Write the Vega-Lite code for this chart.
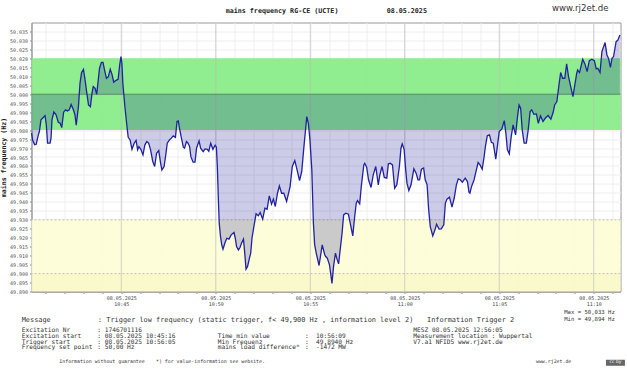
{"$schema":"https://vega.github.io/schema/vega-lite/v6.json","width":589,"height":269,"autosize":{"type":"none"},"padding":{"left":31.5,"top":22.5,"right":6.5,"bottom":76.5},"background":"white","config":{"view":{"stroke":"#999999","strokeWidth":1}},
"datasets":{"freq":[
{"t":"2025-05-08T10:40:15Z","f":49.9783},{"t":"2025-05-08T10:40:19Z","f":49.9742},{"t":"2025-05-08T10:40:25Z","f":49.9719},{"t":"2025-05-08T10:40:30Z","f":49.9721},{"t":"2025-05-08T10:40:36Z","f":49.9768},{"t":"2025-05-08T10:40:40Z","f":49.9792},{"t":"2025-05-08T10:40:45Z","f":49.9857},{"t":"2025-05-08T10:40:50Z","f":49.9866},{"t":"2025-05-08T10:40:58Z","f":49.9881},{"t":"2025-05-08T10:41:02Z","f":49.9829},{"t":"2025-05-08T10:41:06Z","f":49.9727},{"t":"2025-05-08T10:41:14Z","f":49.9727},{"t":"2025-05-08T10:41:17Z","f":49.9755},{"t":"2025-05-08T10:41:20Z","f":49.9857},{"t":"2025-05-08T10:41:26Z","f":49.9901},{"t":"2025-05-08T10:41:33Z","f":49.9885},{"t":"2025-05-08T10:41:40Z","f":49.9844},{"t":"2025-05-08T10:41:46Z","f":49.9838},{"t":"2025-05-08T10:41:51Z","f":49.9814},{"t":"2025-05-08T10:41:57Z","f":49.99},{"t":"2025-05-08T10:42:03Z","f":49.9913},{"t":"2025-05-08T10:42:09Z","f":49.9907},{"t":"2025-05-08T10:42:15Z","f":49.9913},{"t":"2025-05-08T10:42:21Z","f":49.9942},{"t":"2025-05-08T10:42:28Z","f":49.9913},{"t":"2025-05-08T10:42:33Z","f":49.9885},{"t":"2025-05-08T10:42:37Z","f":49.9827},{"t":"2025-05-08T10:42:44Z","f":49.9931},{"t":"2025-05-08T10:42:49Z","f":50.0061},{"t":"2025-05-08T10:42:54Z","f":50.0121},{"t":"2025-05-08T10:43:00Z","f":50.0139},{"t":"2025-05-08T10:43:05Z","f":50.008},{"t":"2025-05-08T10:43:10Z","f":50.0015},{"t":"2025-05-08T10:43:16Z","f":49.994},{"t":"2025-05-08T10:43:22Z","f":49.9931},{"t":"2025-05-08T10:43:27Z","f":50.0005},{"t":"2025-05-08T10:43:31Z","f":50.0043},{"t":"2025-05-08T10:43:37Z","f":50.0033},{"t":"2025-05-08T10:43:42Z","f":50},{"t":"2025-05-08T10:43:47Z","f":50.008},{"t":"2025-05-08T10:43:51Z","f":50.0145},{"t":"2025-05-08T10:43:57Z","f":50.0178},{"t":"2025-05-08T10:44:02Z","f":50.0178},{"t":"2025-05-08T10:44:07Z","f":50.0135},{"t":"2025-05-08T10:44:13Z","f":50.0089},{"t":"2025-05-08T10:44:19Z","f":50.0098},{"t":"2025-05-08T10:44:25Z","f":50.0139},{"t":"2025-05-08T10:44:31Z","f":50.0108},{"t":"2025-05-08T10:44:36Z","f":50.0067},{"t":"2025-05-08T10:44:42Z","f":50.0076},{"t":"2025-05-08T10:44:50Z","f":50.0083},{"t":"2025-05-08T10:44:55Z","f":50.0163},{"t":"2025-05-08T10:44:59Z","f":50.021},{"t":"2025-05-08T10:45:02Z","f":50.0173},{"t":"2025-05-08T10:45:05Z","f":50.0061},{"t":"2025-05-08T10:45:11Z","f":49.994},{"t":"2025-05-08T10:45:17Z","f":49.9838},{"t":"2025-05-08T10:45:22Z","f":49.976},{"t":"2025-05-08T10:45:28Z","f":49.9745},{"t":"2025-05-08T10:45:34Z","f":49.9693},{"t":"2025-05-08T10:45:41Z","f":49.9727},{"t":"2025-05-08T10:45:47Z","f":49.9742},{"t":"2025-05-08T10:45:52Z","f":49.969},{"t":"2025-05-08T10:45:56Z","f":49.9708},{"t":"2025-05-08T10:46:02Z","f":49.9693},{"t":"2025-05-08T10:46:09Z","f":49.9662},{"t":"2025-05-08T10:46:15Z","f":49.9718},{"t":"2025-05-08T10:46:21Z","f":49.9736},{"t":"2025-05-08T10:46:27Z","f":49.9727},{"t":"2025-05-08T10:46:33Z","f":49.969},{"t":"2025-05-08T10:46:40Z","f":49.9625},{"t":"2025-05-08T10:46:46Z","f":49.9597},{"t":"2025-05-08T10:46:52Z","f":49.9671},{"t":"2025-05-08T10:46:59Z","f":49.9686},{"t":"2025-05-08T10:47:05Z","f":49.9615},{"t":"2025-05-08T10:47:09Z","f":49.9578},{"t":"2025-05-08T10:47:16Z","f":49.9597},{"t":"2025-05-08T10:47:22Z","f":49.9671},{"t":"2025-05-08T10:47:26Z","f":49.9727},{"t":"2025-05-08T10:47:33Z","f":49.9745},{"t":"2025-05-08T10:47:39Z","f":49.9755},{"t":"2025-05-08T10:47:45Z","f":49.9768},{"t":"2025-05-08T10:47:52Z","f":49.976},{"t":"2025-05-08T10:47:57Z","f":49.9848},{"t":"2025-05-08T10:48:01Z","f":49.9851},{"t":"2025-05-08T10:48:05Z","f":49.981},{"t":"2025-05-08T10:48:11Z","f":49.9755},{"t":"2025-05-08T10:48:17Z","f":49.9705},{"t":"2025-05-08T10:48:21Z","f":49.9699},{"t":"2025-05-08T10:48:27Z","f":49.9736},{"t":"2025-05-08T10:48:32Z","f":49.9727},{"t":"2025-05-08T10:48:37Z","f":49.9708},{"t":"2025-05-08T10:48:41Z","f":49.9652},{"t":"2025-05-08T10:48:48Z","f":49.9621},{"t":"2025-05-08T10:48:54Z","f":49.9621},{"t":"2025-05-08T10:48:59Z","f":49.9699},{"t":"2025-05-08T10:49:07Z","f":49.974},{"t":"2025-05-08T10:49:12Z","f":49.9699},{"t":"2025-05-08T10:49:20Z","f":49.968},{"t":"2025-05-08T10:49:26Z","f":49.9695},{"t":"2025-05-08T10:49:33Z","f":49.9693},{"t":"2025-05-08T10:49:38Z","f":49.9682},{"t":"2025-05-08T10:49:44Z","f":49.9727},{"t":"2025-05-08T10:49:51Z","f":49.9693},{"t":"2025-05-08T10:49:58Z","f":49.9716},{"t":"2025-05-08T10:50:02Z","f":49.9705},{"t":"2025-05-08T10:50:05Z","f":49.9597},{"t":"2025-05-08T10:50:08Z","f":49.943},{"t":"2025-05-08T10:50:11Z","f":49.9281},{"t":"2025-05-08T10:50:15Z","f":49.9207},{"t":"2025-05-08T10:50:19Z","f":49.916},{"t":"2025-05-08T10:50:23Z","f":49.9136},{"t":"2025-05-08T10:50:29Z","f":49.917},{"t":"2025-05-08T10:50:35Z","f":49.9197},{"t":"2025-05-08T10:50:42Z","f":49.9192},{"t":"2025-05-08T10:50:49Z","f":49.9216},{"t":"2025-05-08T10:50:58Z","f":49.9229},{"t":"2025-05-08T10:51:02Z","f":49.9197},{"t":"2025-05-08T10:51:06Z","f":49.9151},{"t":"2025-05-08T10:51:12Z","f":49.9132},{"t":"2025-05-08T10:51:17Z","f":49.9145},{"t":"2025-05-08T10:51:22Z","f":49.917},{"t":"2025-05-08T10:51:28Z","f":49.9192},{"t":"2025-05-08T10:51:32Z","f":49.9114},{"t":"2025-05-08T10:51:36Z","f":49.9025},{"t":"2025-05-08T10:51:41Z","f":49.904},{"t":"2025-05-08T10:51:47Z","f":49.9086},{"t":"2025-05-08T10:51:51Z","f":49.9114},{"t":"2025-05-08T10:51:55Z","f":49.9197},{"t":"2025-05-08T10:52:01Z","f":49.9262},{"t":"2025-05-08T10:52:08Z","f":49.9333},{"t":"2025-05-08T10:52:15Z","f":49.9322},{"t":"2025-05-08T10:52:21Z","f":49.934},{"t":"2025-05-08T10:52:29Z","f":49.9303},{"t":"2025-05-08T10:52:36Z","f":49.9365},{"t":"2025-05-08T10:52:43Z","f":49.9359},{"t":"2025-05-08T10:52:50Z","f":49.9433},{"t":"2025-05-08T10:52:57Z","f":49.9387},{"t":"2025-05-08T10:53:03Z","f":49.9415},{"t":"2025-05-08T10:53:09Z","f":49.9374},{"t":"2025-05-08T10:53:16Z","f":49.9448},{"t":"2025-05-08T10:53:22Z","f":49.9489},{"t":"2025-05-08T10:53:29Z","f":49.9448},{"t":"2025-05-08T10:53:36Z","f":49.9448},{"t":"2025-05-08T10:53:45Z","f":49.9402},{"t":"2025-05-08T10:53:56Z","f":49.9485},{"t":"2025-05-08T10:54:03Z","f":49.9597},{"t":"2025-05-08T10:54:11Z","f":49.963},{"t":"2025-05-08T10:54:17Z","f":49.9587},{"t":"2025-05-08T10:54:26Z","f":49.9519},{"t":"2025-05-08T10:54:33Z","f":49.9569},{"t":"2025-05-08T10:54:39Z","f":49.969},{"t":"2025-05-08T10:54:49Z","f":49.9875},{"t":"2025-05-08T10:54:54Z","f":49.9838},{"t":"2025-05-08T10:54:59Z","f":49.9745},{"t":"2025-05-08T10:55:05Z","f":49.9578},{"t":"2025-05-08T10:55:10Z","f":49.9281},{"t":"2025-05-08T10:55:14Z","f":49.916},{"t":"2025-05-08T10:55:19Z","f":49.9114},{"t":"2025-05-08T10:55:28Z","f":49.9045},{"t":"2025-05-08T10:55:34Z","f":49.9114},{"t":"2025-05-08T10:55:38Z","f":49.916},{"t":"2025-05-08T10:55:46Z","f":49.9105},{"t":"2025-05-08T10:55:49Z","f":49.9095},{"t":"2025-05-08T10:55:54Z","f":49.9086},{"t":"2025-05-08T10:56:01Z","f":49.9049},{"t":"2025-05-08T10:56:09Z","f":49.8945},{"t":"2025-05-08T10:56:14Z","f":49.904},{"t":"2025-05-08T10:56:20Z","f":49.9114},{"t":"2025-05-08T10:56:24Z","f":49.9086},{"t":"2025-05-08T10:56:30Z","f":49.9054},{"t":"2025-05-08T10:56:35Z","f":49.9132},{"t":"2025-05-08T10:56:41Z","f":49.9225},{"t":"2025-05-08T10:56:46Z","f":49.9327},{"t":"2025-05-08T10:56:53Z","f":49.9337},{"t":"2025-05-08T10:57:01Z","f":49.9331},{"t":"2025-05-08T10:57:08Z","f":49.9272},{"t":"2025-05-08T10:57:15Z","f":49.921},{"t":"2025-05-08T10:57:20Z","f":49.93},{"t":"2025-05-08T10:57:26Z","f":49.9392},{"t":"2025-05-08T10:57:30Z","f":49.9407},{"t":"2025-05-08T10:57:37Z","f":49.9389},{"t":"2025-05-08T10:57:42Z","f":49.9485},{"t":"2025-05-08T10:57:50Z","f":49.9606},{"t":"2025-05-08T10:57:53Z","f":49.9615},{"t":"2025-05-08T10:57:59Z","f":49.9593},{"t":"2025-05-08T10:58:05Z","f":49.9523},{"t":"2025-05-08T10:58:13Z","f":49.948},{"t":"2025-05-08T10:58:20Z","f":49.955},{"t":"2025-05-08T10:58:28Z","f":49.9597},{"t":"2025-05-08T10:58:36Z","f":49.9495},{"t":"2025-05-08T10:58:41Z","f":49.955},{"t":"2025-05-08T10:58:48Z","f":49.9597},{"t":"2025-05-08T10:58:55Z","f":49.9536},{"t":"2025-05-08T10:59:03Z","f":49.9532},{"t":"2025-05-08T10:59:08Z","f":49.9612},{"t":"2025-05-08T10:59:14Z","f":49.9615},{"t":"2025-05-08T10:59:21Z","f":49.9606},{"t":"2025-05-08T10:59:28Z","f":49.9476},{"t":"2025-05-08T10:59:35Z","f":49.9495},{"t":"2025-05-08T10:59:43Z","f":49.9597},{"t":"2025-05-08T10:59:48Z","f":49.9699},{"t":"2025-05-08T10:59:52Z","f":49.9723},{"t":"2025-05-08T10:59:58Z","f":49.9693},{"t":"2025-05-08T11:00:03Z","f":49.9578},{"t":"2025-05-08T11:00:07Z","f":49.9504},{"t":"2025-05-08T11:00:13Z","f":49.9463},{"t":"2025-05-08T11:00:20Z","f":49.9495},{"t":"2025-05-08T11:00:29Z","f":49.9584},{"t":"2025-05-08T11:00:36Z","f":49.956},{"t":"2025-05-08T11:00:42Z","f":49.9523},{"t":"2025-05-08T11:00:47Z","f":49.9523},{"t":"2025-05-08T11:00:53Z","f":49.9582},{"t":"2025-05-08T11:01:00Z","f":49.9589},{"t":"2025-05-08T11:01:05Z","f":49.9523},{"t":"2025-05-08T11:01:11Z","f":49.9495},{"t":"2025-05-08T11:01:16Z","f":49.9355},{"t":"2025-05-08T11:01:21Z","f":49.9262},{"t":"2025-05-08T11:01:29Z","f":49.921},{"t":"2025-05-08T11:01:36Z","f":49.9244},{"t":"2025-05-08T11:01:41Z","f":49.9275},{"t":"2025-05-08T11:01:49Z","f":49.9248},{"t":"2025-05-08T11:01:56Z","f":49.9249},{"t":"2025-05-08T11:02:04Z","f":49.9272},{"t":"2025-05-08T11:02:09Z","f":49.9392},{"t":"2025-05-08T11:02:14Z","f":49.9415},{"t":"2025-05-08T11:02:22Z","f":49.9426},{"t":"2025-05-08T11:02:30Z","f":49.937},{"t":"2025-05-08T11:02:37Z","f":49.942},{"t":"2025-05-08T11:02:44Z","f":49.9495},{"t":"2025-05-08T11:02:50Z","f":49.9528},{"t":"2025-05-08T11:02:56Z","f":49.9523},{"t":"2025-05-08T11:03:03Z","f":49.951},{"t":"2025-05-08T11:03:12Z","f":49.9532},{"t":"2025-05-08T11:03:19Z","f":49.9513},{"t":"2025-05-08T11:03:24Z","f":49.9454},{"t":"2025-05-08T11:03:27Z","f":49.9448},{"t":"2025-05-08T11:03:32Z","f":49.9485},{"t":"2025-05-08T11:03:40Z","f":49.9522},{"t":"2025-05-08T11:03:45Z","f":49.956},{"t":"2025-05-08T11:03:53Z","f":49.9619},{"t":"2025-05-08T11:03:59Z","f":49.9606},{"t":"2025-05-08T11:04:06Z","f":49.9582},{"t":"2025-05-08T11:04:12Z","f":49.9652},{"t":"2025-05-08T11:04:16Z","f":49.9708},{"t":"2025-05-08T11:04:22Z","f":49.9768},{"t":"2025-05-08T11:04:29Z","f":49.9773},{"t":"2025-05-08T11:04:35Z","f":49.9732},{"t":"2025-05-08T11:04:41Z","f":49.9727},{"t":"2025-05-08T11:04:49Z","f":49.9638},{"t":"2025-05-08T11:04:54Z","f":49.9708},{"t":"2025-05-08T11:05:00Z","f":49.9792},{"t":"2025-05-08T11:05:08Z","f":49.9805},{"t":"2025-05-08T11:05:16Z","f":49.9853},{"t":"2025-05-08T11:05:21Z","f":49.9783},{"t":"2025-05-08T11:05:26Z","f":49.969},{"t":"2025-05-08T11:05:32Z","f":49.9667},{"t":"2025-05-08T11:05:38Z","f":49.9764},{"t":"2025-05-08T11:05:44Z","f":49.9829},{"t":"2025-05-08T11:05:52Z","f":49.9773},{"t":"2025-05-08T11:05:58Z","f":49.9875},{"t":"2025-05-08T11:06:03Z","f":49.994},{"t":"2025-05-08T11:06:08Z","f":49.9922},{"t":"2025-05-08T11:06:13Z","f":49.9801},{"t":"2025-05-08T11:06:19Z","f":49.9727},{"t":"2025-05-08T11:06:26Z","f":49.9727},{"t":"2025-05-08T11:06:32Z","f":49.9801},{"t":"2025-05-08T11:06:38Z","f":49.9903},{"t":"2025-05-08T11:06:43Z","f":49.9913},{"t":"2025-05-08T11:06:50Z","f":49.9888},{"t":"2025-05-08T11:06:58Z","f":49.989},{"t":"2025-05-08T11:07:04Z","f":49.9838},{"t":"2025-05-08T11:07:11Z","f":49.9879},{"t":"2025-05-08T11:07:19Z","f":49.9848},{"t":"2025-05-08T11:07:26Z","f":49.9866},{"t":"2025-05-08T11:07:35Z","f":49.9881},{"t":"2025-05-08T11:07:44Z","f":49.9861},{"t":"2025-05-08T11:07:51Z","f":49.9898},{"t":"2025-05-08T11:07:56Z","f":49.994},{"t":"2025-05-08T11:08:03Z","f":49.9959},{"t":"2025-05-08T11:08:09Z","f":50.0043},{"t":"2025-05-08T11:08:15Z","f":50.0121},{"t":"2025-05-08T11:08:21Z","f":50.0089},{"t":"2025-05-08T11:08:28Z","f":50.0089},{"t":"2025-05-08T11:08:34Z","f":50.0169},{"t":"2025-05-08T11:08:40Z","f":50.0098},{"t":"2025-05-08T11:08:47Z","f":50.0043},{"t":"2025-05-08T11:08:54Z","f":49.9987},{"t":"2025-05-08T11:09:00Z","f":50.0052},{"t":"2025-05-08T11:09:06Z","f":50.0117},{"t":"2025-05-08T11:09:09Z","f":50.0135},{"t":"2025-05-08T11:09:15Z","f":50.0121},{"t":"2025-05-08T11:09:25Z","f":50.0195},{"t":"2025-05-08T11:09:32Z","f":50.0169},{"t":"2025-05-08T11:09:39Z","f":50.0126},{"t":"2025-05-08T11:09:46Z","f":50.0187},{"t":"2025-05-08T11:09:54Z","f":50.0195},{"t":"2025-05-08T11:10:02Z","f":50.0187},{"t":"2025-05-08T11:10:08Z","f":50.0141},{"t":"2025-05-08T11:10:13Z","f":50.0145},{"t":"2025-05-08T11:10:20Z","f":50.0121},{"t":"2025-05-08T11:10:26Z","f":50.0238},{"t":"2025-05-08T11:10:36Z","f":50.0288},{"t":"2025-05-08T11:10:42Z","f":50.0219},{"t":"2025-05-08T11:10:47Z","f":50.02},{"t":"2025-05-08T11:10:53Z","f":50.015},{"t":"2025-05-08T11:10:58Z","f":50.02},{"t":"2025-05-08T11:11:03Z","f":50.021},{"t":"2025-05-08T11:11:11Z","f":50.0293},{"t":"2025-05-08T11:11:17Z","f":50.0303},{"t":"2025-05-08T11:11:23Z","f":50.033}
]},
"layer":[
{"data":{"values":[{"lo":49.98,"hi":50.02,"band":"trigger-free"},{"lo":49.9,"hi":49.93,"band":"low"},{"lo":49.89,"hi":49.9,"band":"lowest"}]},
"mark":{"type":"rect","opacity":0.9},
"encoding":{
"y":{"field":"lo","type":"quantitative","scale":{"domain":[49.89,50.04],"nice":false,"zero":false},"axis":{"title":"mains frequency (Hz)","titleFont":"DejaVu Sans Mono","titleFontSize":6.6,"titleFontWeight":"bold","titleColor":"#222222","titlePadding":3,"values":[49.89,49.895,49.9,49.905,49.91,49.915,49.92,49.925,49.93,49.935,49.94,49.945,49.95,49.955,49.96,49.965,49.97,49.975,49.98,49.985,49.99,49.995,50,50.005,50.01,50.015,50.02,50.025,50.03,50.035],"tickCount":100,"format":".3f","labelOverlap":false,"labelFont":"DejaVu Sans Mono","labelFontSize":5,"labelColor":"#555555","labelPadding":2,"tickSize":2,"tickColor":"#888888","domainColor":"#999999","grid":true,"gridColor":"#eeeeee","gridWidth":1}},
"y2":{"field":"hi"},
"color":{"field":"band","type":"nominal","legend":null,"scale":{"domain":["trigger-free","low","lowest"],"range":["#84ec84","#fdfdd6","#f8f8c6"]}}}},
{"data":{"values":[{"level":49.93},{"level":49.9}]},"mark":{"type":"rule","color":"#c4c4b0","strokeWidth":1,"strokeDash":[2,2]},"encoding":{"y":{"field":"level","type":"quantitative"}}},
{"data":{"values":[{"major":"2025-05-08T10:45:00Z"},{"major":"2025-05-08T10:50:00Z"},{"major":"2025-05-08T10:55:00Z"},{"major":"2025-05-08T11:00:00Z"},{"major":"2025-05-08T11:05:00Z"},{"major":"2025-05-08T11:10:00Z"}]},"mark":{"type":"rule","color":"#bbbbbb","strokeWidth":1,"opacity":0.65},"encoding":{"x":{"field":"major","type":"temporal"}}},
{"data":{"name":"freq"},"mark":{"type":"area","color":"#00008b","opacity":0.2},"encoding":{"x":{"field":"t","type":"temporal","scale":{"type":"utc","domain":[1746700815000,1746702685000]},"axis":{"title":null,"labelOverlap":false,"labelExpr":"utcminutes(datum.value)%5==0 ? ['08.05.2025', utcFormat(datum.value,'%H:%M')] : ''","labelFont":"DejaVu Sans Mono","labelFontSize":5,"labelColor":"#444444","labelPadding":2,"labelLineHeight":6,"tickSize":2,"tickColor":"#888888","domainColor":"#aaaaaa","domainWidth":2,"grid":true,"gridColor":"#eeeeee","gridWidth":1}},"y":{"field":"f","type":"quantitative"},"y2":{"datum":50}}},
{"data":{"values":[{"level":50}]},"mark":{"type":"rule","color":"#5a8a65","strokeWidth":1},"encoding":{"y":{"field":"level","type":"quantitative"}}},
{"data":{"name":"freq"},"mark":{"type":"line","color":"#2222a0","strokeWidth":1.3},"encoding":{"x":{"field":"t","type":"temporal"},"y":{"field":"f","type":"quantitative"}}},
{"data":{"values":[{}]},"mark":{"type":"text","align":"left","baseline":"middle","font":"DejaVu Sans Mono","fontWeight":"bold","fontSize":6.7,"color":"#222222"},"encoding":{"x":{"datum":1746701431500,"type":"temporal"},"y":{"datum":50.04642,"type":"quantitative"},"text":{"value":"mains frequency RG-CE (UCTE)"}}},
{"data":{"values":[{}]},"mark":{"type":"text","align":"left","baseline":"middle","font":"DejaVu Sans Mono","fontWeight":"bold","fontSize":6.7,"color":"#222222"},"encoding":{"x":{"datum":1746701942600,"type":"temporal"},"y":{"datum":50.04642,"type":"quantitative"},"text":{"value":"08.05.2025"}}},
{"data":{"values":[{}]},"mark":{"type":"text","align":"left","baseline":"middle","font":"DejaVu Sans","fontSize":8.6,"color":"#333333"},"encoding":{"x":{"datum":1746702467400,"type":"temporal"},"y":{"datum":50.04809,"type":"quantitative"},"text":{"value":"www.rj2et.de"}}},
{"data":{"values":[{}]},"mark":{"type":"text","align":"left","baseline":"middle","font":"DejaVu Sans Mono","fontSize":6.9,"color":"#333333"},"encoding":{"x":{"datum":1746700783900,"type":"temporal"},"y":{"datum":49.87384,"type":"quantitative"},"text":{"value":"Message"}}},
{"data":{"values":[{}]},"mark":{"type":"text","align":"left","baseline":"middle","font":"DejaVu Sans Mono","fontSize":6.9,"color":"#333333"},"encoding":{"x":{"datum":1746701026100,"type":"temporal"},"y":{"datum":49.87384,"type":"quantitative"},"text":{"value":": Trigger low frequency (static trigger, f< 49,900 Hz , information level 2)"}}},
{"data":{"values":[{}]},"mark":{"type":"text","align":"left","baseline":"middle","font":"DejaVu Sans Mono","fontSize":6.9,"color":"#333333"},"encoding":{"x":{"datum":1746702070600,"type":"temporal"},"y":{"datum":49.87384,"type":"quantitative"},"text":{"value":"Information Trigger 2"}}},
{"data":{"values":[{}]},"mark":{"type":"text","align":"left","baseline":"middle","lineHeight":5.8,"font":"DejaVu Sans Mono","fontSize":6.2,"color":"#333333"},"encoding":{"x":{"datum":1746700783900,"type":"temporal"},"y":{"datum":49.86849,"type":"quantitative"},"text":{"value":["Excitation Nr","Excitation start","Trigger start","Frequency set point"]}}},
{"data":{"values":[{}]},"mark":{"type":"text","align":"left","baseline":"middle","lineHeight":5.8,"font":"DejaVu Sans Mono","fontSize":6.2,"color":"#333333"},"encoding":{"x":{"datum":1746701023900,"type":"temporal"},"y":{"datum":49.86849,"type":"quantitative"},"text":{"value":[": 1746701116",": 08.05.2025 10:45:16",": 08.05.2025 10:56:05",": 50,00 Hz"]}}},
{"data":{"values":[{}]},"mark":{"type":"text","align":"left","baseline":"middle","lineHeight":5.8,"font":"DejaVu Sans Mono","fontSize":6.2,"color":"#333333"},"encoding":{"x":{"datum":1746701406100,"type":"temporal"},"y":{"datum":49.86531,"type":"quantitative"},"text":{"value":["Time min value","Min Frequenz","mains load difference*"]}}},
{"data":{"values":[{}]},"mark":{"type":"text","align":"left","baseline":"middle","lineHeight":5.8,"font":"DejaVu Sans Mono","fontSize":6.2,"color":"#333333"},"encoding":{"x":{"datum":1746701683300,"type":"temporal"},"y":{"datum":49.86531,"type":"quantitative"},"text":{"value":[":",":",":"]}}},
{"data":{"values":[{}]},"mark":{"type":"text","align":"left","baseline":"middle","lineHeight":5.8,"font":"DejaVu Sans Mono","fontSize":6.2,"color":"#333333"},"encoding":{"x":{"datum":1746701718200,"type":"temporal"},"y":{"datum":49.86531,"type":"quantitative"},"text":{"value":["10:56:09","49,8940 Hz","-1472 MW"]}}},
{"data":{"values":[{}]},"mark":{"type":"text","align":"left","baseline":"middle","lineHeight":5.8,"font":"DejaVu Sans Mono","fontSize":6.2,"color":"#333333"},"encoding":{"x":{"datum":1746702027100,"type":"temporal"},"y":{"datum":49.86849,"type":"quantitative"},"text":{"value":["MESZ 08.05.2025 12:56:05","Measurement location : Wuppertal","V7.a1 NFID5 www.rj2et.de"]}}},
{"data":{"values":[{}]},"mark":{"type":"text","align":"left","baseline":"middle","lineHeight":6.6,"font":"DejaVu Sans Mono","fontSize":5.6,"color":"#333333"},"encoding":{"x":{"datum":1746702506400,"type":"temporal"},"y":{"datum":49.8783,"type":"quantitative"},"text":{"value":["Max = 50,033 Hz","Min = 49,894 Hz"]}}},
{"data":{"values":[{}]},"mark":{"type":"text","align":"left","baseline":"middle","font":"DejaVu Sans Mono","fontSize":4.9,"color":"#333333"},"encoding":{"x":{"datum":1746700903300,"type":"temporal"},"y":{"datum":49.85043,"type":"quantitative"},"text":{"value":"Information without guarantee"}}},
{"data":{"values":[{}]},"mark":{"type":"text","align":"left","baseline":"middle","font":"DejaVu Sans Mono","fontSize":4.9,"color":"#333333"},"encoding":{"x":{"datum":1746701210200,"type":"temporal"},"y":{"datum":49.85043,"type":"quantitative"},"text":{"value":"*) for value-information see website."}}},
{"data":{"values":[{}]},"mark":{"type":"text","align":"left","baseline":"middle","font":"DejaVu Sans Mono","fontSize":4.9,"color":"#333333"},"encoding":{"x":{"datum":1746702416600,"type":"temporal"},"y":{"datum":49.85043,"type":"quantitative"},"text":{"value":"www.rj2et.de"}}},
{"data":{"values":[{}]},"mark":{"type":"rect","color":"#666666"},"encoding":{"x":{"datum":1746702638800,"type":"temporal"},"x2":{"datum":1746702699100},"y":{"datum":49.85194,"type":"quantitative"},"y2":{"datum":49.84859}}},
{"data":{"values":[{}]},"mark":{"type":"text","align":"center","baseline":"middle","font":"DejaVu Sans","fontSize":4.5,"color":"#ffffff"},"encoding":{"x":{"datum":1746702669000,"type":"temporal"},"y":{"datum":49.85043,"type":"quantitative"},"text":{"value":"cc by"}}}
]}
